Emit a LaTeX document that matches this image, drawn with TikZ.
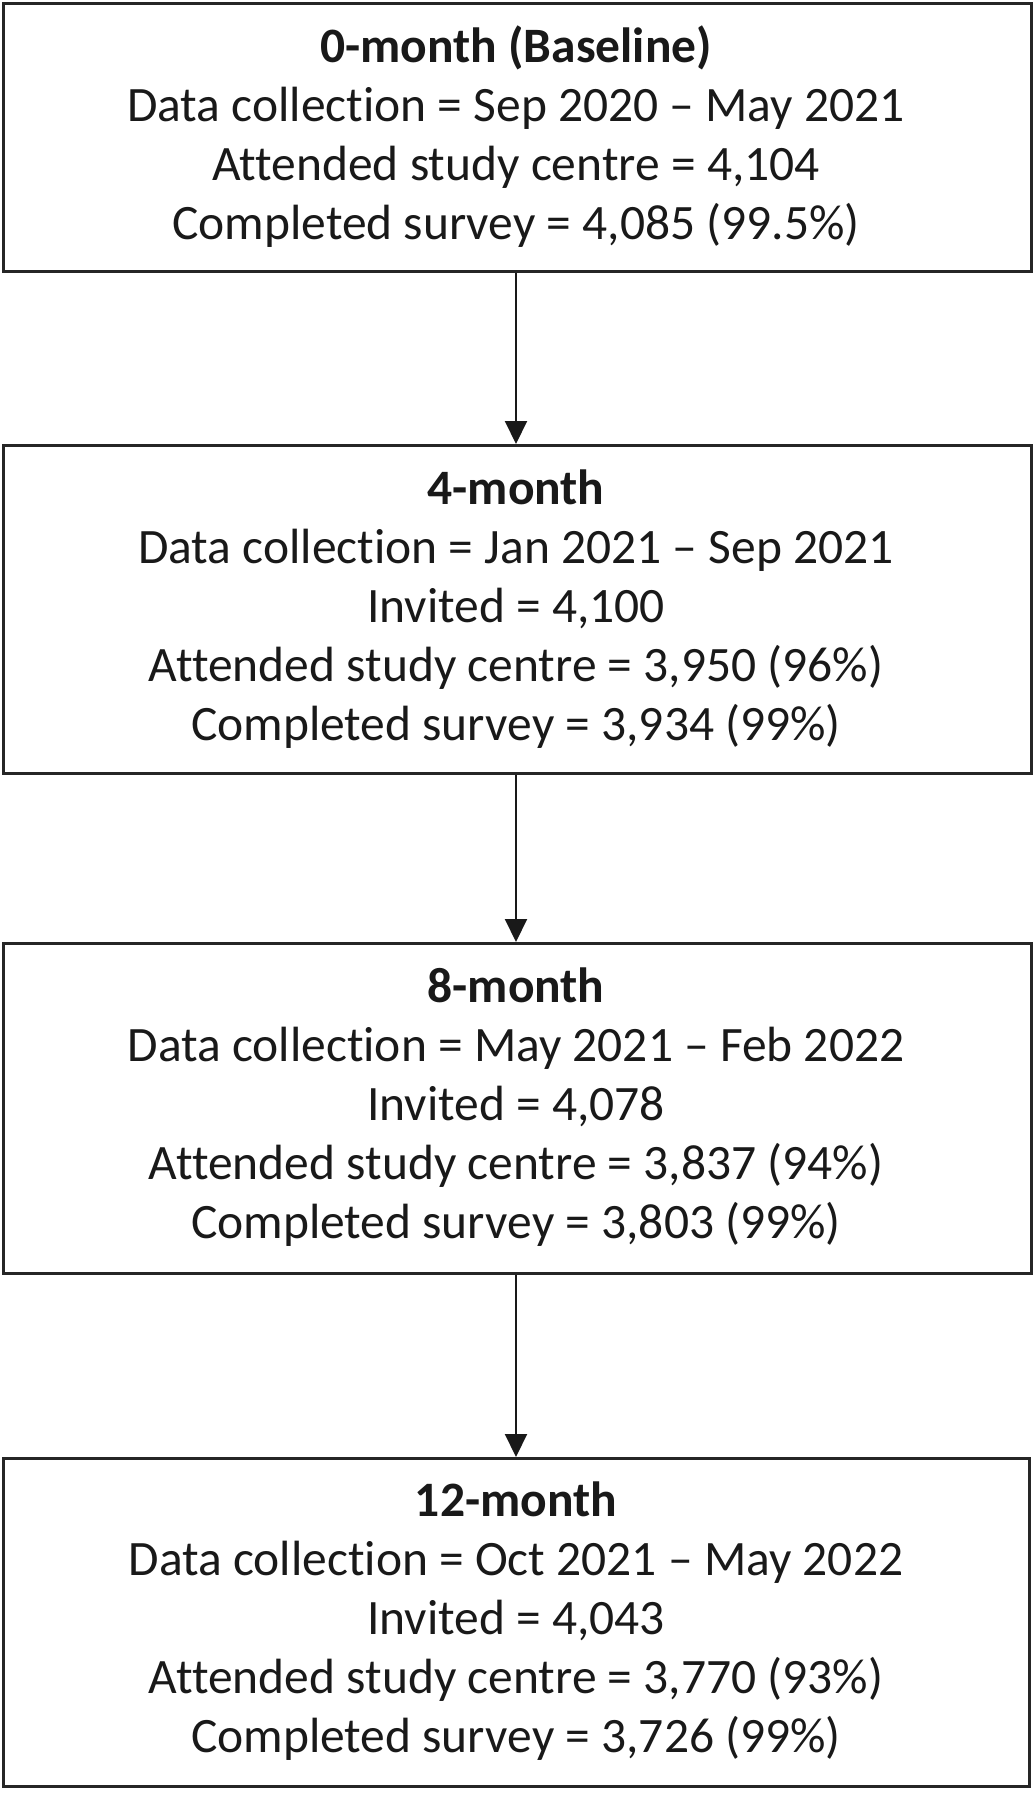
\documentclass[tikz,border=0pt]{standalone}
\usepackage{fontspec}
\setmainfont{Carlito}[Ligatures=NoCommon]
\usetikzlibrary{arrows.meta}
\begin{document}
\begin{tikzpicture}[x=1pt,y=-1pt,
  stagebox/.style={draw=black!85,line width=2.6pt,fill=white},
  stagetext/.style={align=center,font=\fontsize{49.5}{59}\selectfont,text=black!90,inner sep=0pt},
  flow/.style={draw=black!90,line width=2pt,-{Triangle[length=23pt,width=22pt]}}]
\useasboundingbox (0,0) rectangle (1033,1800);
\node[stagebox,minimum width=1028pt,minimum height=268pt,anchor=north west] (b1) at (2,2) {};
\node[stagebox,minimum width=1028pt,minimum height=328pt,anchor=north west] (b2) at (2,444) {};
\node[stagebox,minimum width=1028pt,minimum height=330pt,anchor=north west] (b3) at (2,942) {};
\node[stagebox,minimum width=1026pt,minimum height=328pt,anchor=north west] (b4) at (2,1457) {};
\node[stagetext] (t1) at (516,137) {\textbf{0-month (Baseline)}\\Data collection = Sep 2020 – May 2021\\Attended study centre = 4,104\\Completed survey = 4,085 (99.5\%)};
\node[stagetext] (t2) at (516,609) {\textbf{4-month}\\Data collection = Jan 2021 – Sep 2021\\Invited = 4,100\\Attended study centre = 3,950 (96\%)\\Completed survey = 3,934 (99\%)};
\node[stagetext] (t3) at (516,1107) {\textbf{8-month}\\Data collection = May 2021 – Feb 2022\\Invited = 4,078\\Attended study centre = 3,837 (94\%)\\Completed survey = 3,803 (99\%)};
\node[stagetext] (t4) at (516,1621) {\textbf{12-month}\\Data collection = Oct 2021 – May 2022\\Invited = 4,043\\Attended study centre = 3,770 (93\%)\\Completed survey = 3,726 (99\%)};
\draw[flow] (b1.south -| 516,0) -- (b2.north -| 516,0);
\draw[flow] (b2.south -| 516,0) -- (b3.north -| 516,0);
\draw[flow] (b3.south -| 516,0) -- (b4.north -| 516,0);
\end{tikzpicture}
\end{document}
